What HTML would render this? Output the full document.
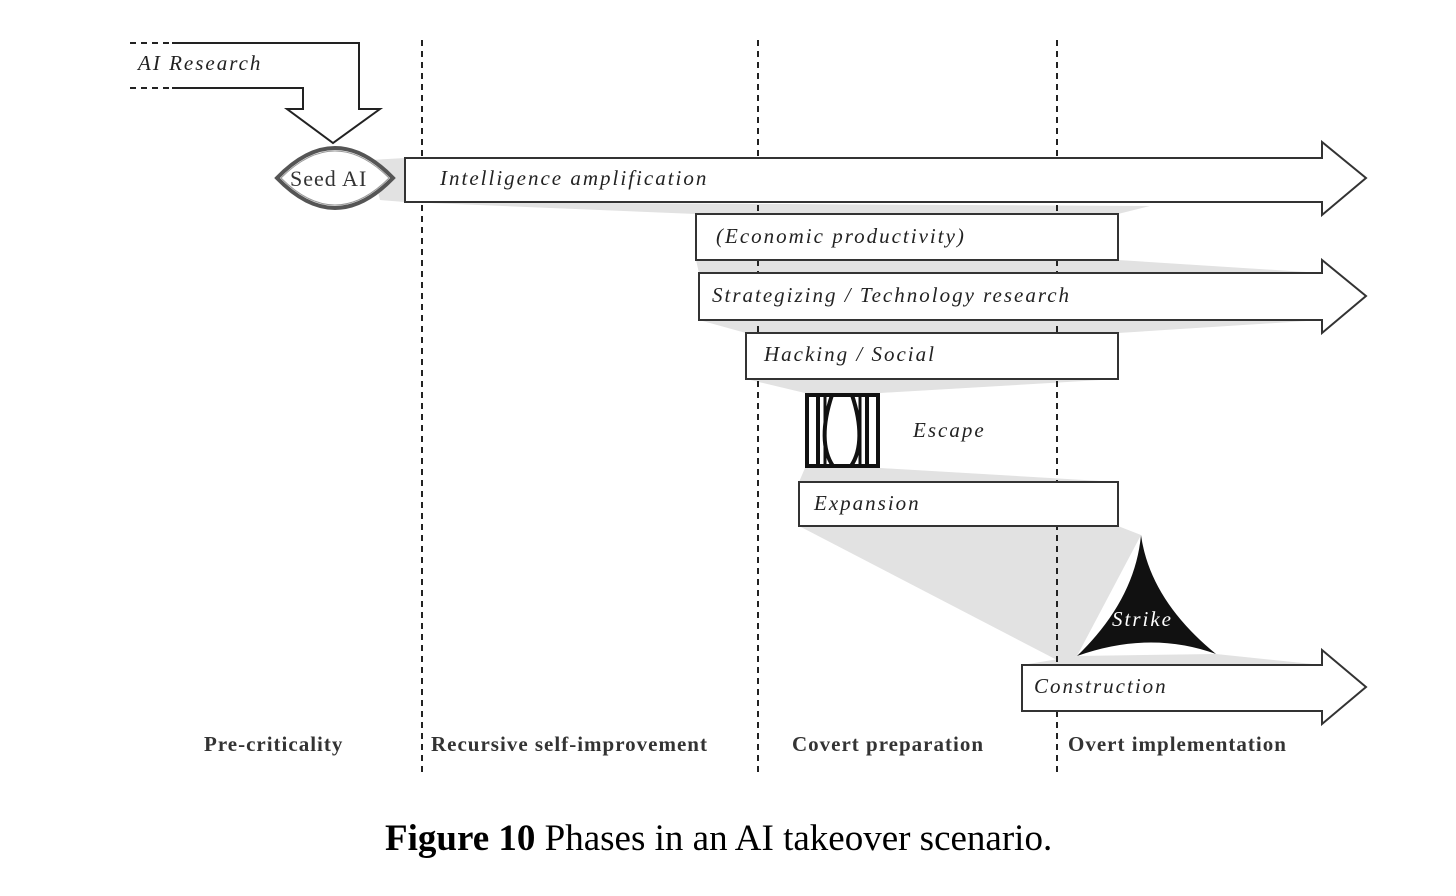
<!DOCTYPE html>
<html><head><meta charset="utf-8"><style>
html,body{margin:0;padding:0;background:#fff;}
svg{display:block;}
.t{font-family:"Liberation Serif",serif;font-style:italic;font-size:21px;letter-spacing:2px;fill:#222;}
.p{font-family:"Liberation Serif",serif;font-weight:bold;font-size:21px;letter-spacing:1px;fill:#333;}
</style></head><body>
<svg width="1456" height="896" viewBox="0 0 1456 896" xmlns="http://www.w3.org/2000/svg">
<!-- shading -->
<g fill="#e2e2e2">
<polygon points="370,160 405,158 405,202 380,200"/>
<polygon points="405,202 1150,206 1118,214 696,214"/>
<polygon points="696,260 1118,260 1322,273 699,273"/>
<polygon points="699,320 1322,320 1118,333 746,333"/>
<polygon points="746,379 1118,379 880,393 805,393"/>
<polygon points="805,468 880,468 1118,482 799,482"/>
<polygon points="799,526 1118,526 1141,535 1077,656 1057,660"/>
<polygon points="1077,656 1216,654 1322,665 1022,665"/>
</g>
<!-- dashed phase lines -->
<g stroke="#222" stroke-width="2" stroke-dasharray="6,5">
<line x1="422" y1="40" x2="422" y2="772"/>
<line x1="758" y1="40" x2="758" y2="772"/>
<line x1="1057" y1="40" x2="1057" y2="772"/>
<line x1="130" y1="43" x2="172" y2="43"/>
<line x1="130" y1="88" x2="172" y2="88"/>
</g>
<!-- AI research arrow -->
<polyline points="172,43 359,43 359,109 380,109 333,143 287,109 303,109 303,88 172,88" fill="none" stroke="#222" stroke-width="2"/>
<text x="138" y="70" class="t">AI Research</text>
<!-- Seed AI eye -->
<path d="M277,178 Q335,118 393,178 Q335,238 277,178 Z" fill="#fff" stroke="#555" stroke-width="4"/>
<path d="M281,178 Q335,124 389,178 Q335,232 281,178 Z" fill="#fff" stroke="#999" stroke-width="1"/>
<text x="290" y="186" font-family="Liberation Serif,serif" font-size="22" letter-spacing="1" fill="#333">Seed AI</text>
<!-- bars -->
<g fill="#fff" stroke="#333" stroke-width="2">
<polygon points="405,158 1322,158 1322,142 1366,178 1322,215 1322,202 405,202"/>
<rect x="696" y="214" width="422" height="46"/>
<polygon points="699,273 1322,273 1322,260 1366,296 1322,333 1322,320 699,320"/>
<rect x="746" y="333" width="372" height="46"/>
<rect x="799" y="482" width="319" height="44"/>
<polygon points="1022,665 1322,665 1322,650 1366,687 1322,724 1322,711 1022,711"/>
</g>
<text x="440" y="185" class="t">Intelligence amplification</text>
<text x="716" y="243" class="t">(Economic productivity)</text>
<text x="712" y="302" class="t">Strategizing / Technology research</text>
<text x="764" y="361" class="t">Hacking / Social</text>
<text x="814" y="510" class="t">Expansion</text>
<text x="1034" y="693" class="t">Construction</text>
<!-- escape icon -->
<g fill="none" stroke="#111" stroke-width="4">
<rect x="807" y="395" width="71" height="71"/>
<line x1="818" y1="395" x2="818" y2="466"/>
<line x1="867" y1="395" x2="867" y2="466"/>
<path d="M832,395 C822,425 822,450 833,466"/>
<path d="M852,395 C862,425 862,450 851,466"/>
<line x1="825" y1="395" x2="825" y2="466" stroke-width="3"/>
<line x1="860" y1="395" x2="860" y2="466" stroke-width="3"/>
</g>
<text x="913" y="437" class="t">Escape</text>
<!-- strike -->
<path d="M1141,535 Q1150,600 1216,654 Q1150,630 1077,656 Q1135,600 1141,535 Z" fill="#111"/>
<text x="1112" y="626" class="t" style="fill:#fff">Strike</text>
<!-- phase labels -->
<text x="204" y="751" class="p">Pre-criticality</text>
<text x="431" y="751" class="p">Recursive self-improvement</text>
<text x="792" y="751" class="p">Covert preparation</text>
<text x="1068" y="751" class="p">Overt implementation</text>
<!-- caption -->
<text x="385" y="850" font-family="Liberation Serif,serif" font-size="37" fill="#000"><tspan font-weight="bold">Figure 10</tspan> Phases in an AI takeover scenario.</text>
</svg>
</body></html>
